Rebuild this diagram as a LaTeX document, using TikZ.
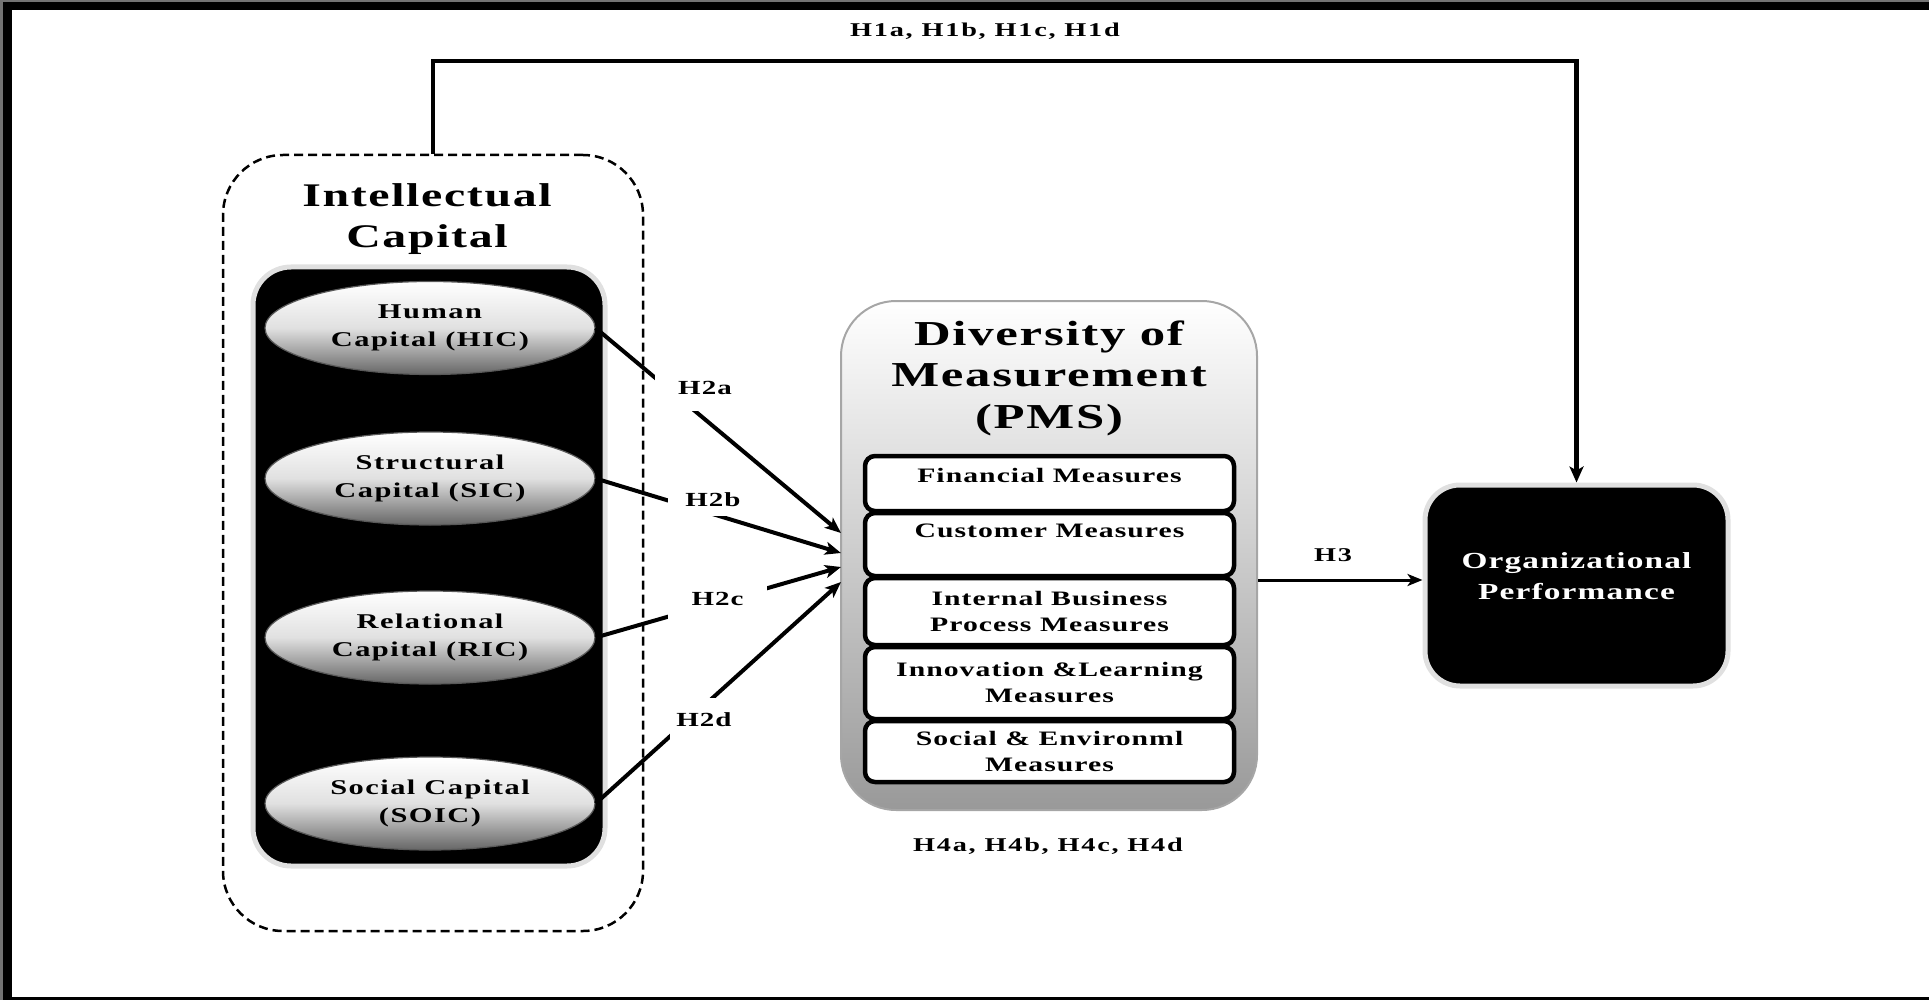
\documentclass[tikz,border=0pt]{standalone}
\usepackage{fontspec}
\setmainfont{Liberation Serif}[FakeStretch=1.45,LetterSpace=5]
\usetikzlibrary{shapes.geometric,arrows.meta,calc}
\begin{document}
\begin{tikzpicture}[x=1pt,y=-1pt,
  hlab/.style={font=\bfseries\fontsize{19.5}{23}\selectfont\addfontfeature{LetterSpace=9}, inner sep=1pt},
  h2lab/.style={font=\bfseries\fontsize{20}{24}\selectfont, fill=white, inner sep=0pt},
  conn/.style={line width=4pt, -{Stealth[length=16pt,width=13pt,inset=4pt]}},
  capell/.style={ellipse, minimum width=330pt, minimum height=93pt, inner sep=0pt,
     top color=white, bottom color=black!60, middle color=black!12,
     draw=black!65, line width=1.2pt, align=center,
     font=\bfseries\fontsize{21}{28}\selectfont\addfontfeature{LetterSpace=7}},
  measbox/.style={draw=black, fill=white, line width=4.5pt, rounded corners=10pt,
     minimum width=369pt, inner sep=0pt, align=center,
     font=\bfseries\fontsize{20.5}{26}\selectfont},
  blackbox/.style={fill=black, draw=black!12, line width=5pt, inner sep=0pt}]
\useasboundingbox (0,0) rectangle (1929,1000);
% frame
\fill[black!55] (0,0) rectangle (1929,2);
\fill[black!55] (0,0) rectangle (3,1000);
\fill[black] (3,2) rectangle (1929,10);
\fill[black] (3,2) rectangle (12,1000);
\fill[black] (3,997) rectangle (1929,1000);

% Intellectual capital group
\node[draw, line width=2.5pt, dash pattern=on 9pt off 5pt, rounded corners=60pt,
      minimum width=420pt, minimum height=776pt, inner sep=0pt] (icbox) at (433,543) {};
\node[font=\bfseries\fontsize{33}{41}\selectfont, align=center] (ictitle) at (427,219) {Intellectual\\Capital};
\node[blackbox, rounded corners=38pt, minimum width=352pt, minimum height=599pt] (icblack) at (429,566.5) {};
\node[capell] (hic) at (430,328) {Human\\Capital (HIC)};
\node[capell] (sic) at (430,478.5) {Structural\\Capital (SIC)};
\node[capell] (ric) at (430,637.5) {Relational\\Capital (RIC)};
\node[capell] (soic) at (430,803.5) {Social Capital\\(SOIC)};

% PMS group
\node[rounded corners=55pt, minimum width=416pt, minimum height=509pt, inner sep=0pt,
      top color=white, bottom color=black!40, draw=black!35, line width=2pt] (pms) at (1049,555.5) {};
\node[font=\bfseries\fontsize{35}{41.5}\selectfont, align=center] (pmstitle) at (1049,378) {Diversity of\\Measurement\\(PMS)};
\node[measbox, minimum height=55pt] (fin) at (1049.5,483.5) {Financial Measures\\[-10pt]\mbox{}};
\node[measbox, minimum height=63pt] (cus) at (1049.5,544.5) {Customer Measures\\[1pt]\mbox{}};
\node[measbox, minimum height=67pt] (ibp) at (1049.5,611.5) {Internal Business\\Process Measures};
\node[measbox, minimum height=72pt] (inl) at (1049.5,683) {Innovation \&Learning\\Measures};
\node[measbox, minimum height=61pt] (sem) at (1049.5,751.5) {Social \& Environml\\Measures};

% Organizational performance
\node[blackbox, rounded corners=35pt, minimum width=303pt, minimum height=201pt,
      text=white, align=center, font=\bfseries\fontsize{23}{31}\selectfont] (org) at (1576.5,585.5)
      {Organizational\\Performance\\[-12.6pt]\mbox{}};

% connectors
\coordinate (pa) at (841,533);
\coordinate (pb) at (841,553);
\coordinate (pc) at (841,567);
\coordinate (pd) at (841,582);
\draw[conn] (hic.east) -- (pa);
\draw[conn] (sic.east) -- (pb);
\draw[conn] (ric.east) -- (pc);
\draw[conn] (soic.east) -- (pd);

\coordinate (h1y) at (0,61);
\draw[line width=4.5pt, -{Stealth[length=16pt,width=14pt,inset=4pt]}] (icbox.north) -- (icbox.north |- h1y) -| (org.north);
\coordinate (h3y) at (0,580);
\draw[line width=3pt, -{Stealth[length=15pt,width=12pt,inset=4pt]}] (pms.east |- h3y) -- (org.west |- h3y);

% labels
\node[h2lab, minimum width=100pt, minimum height=46pt] (h2a) at (705,388) {H2a};
\node[h2lab, minimum width=90pt, minimum height=32pt] (h2b) at (713,500) {H2b};
\node[h2lab, minimum width=99pt, minimum height=42pt] (h2c) at (717.5,599) {H2c};
\node[h2lab, minimum width=68pt, minimum height=44pt] (h2d) at (704,720) {H2d};
\node[hlab] (h1lab) at (985,31) {H1a, H1b, H1c, H1d};
\node[hlab] (h3lab) at (1333,555) {H3};
\node[hlab] (h4lab) at (1048,846) {H4a, H4b, H4c, H4d};
\end{tikzpicture}
\end{document}
